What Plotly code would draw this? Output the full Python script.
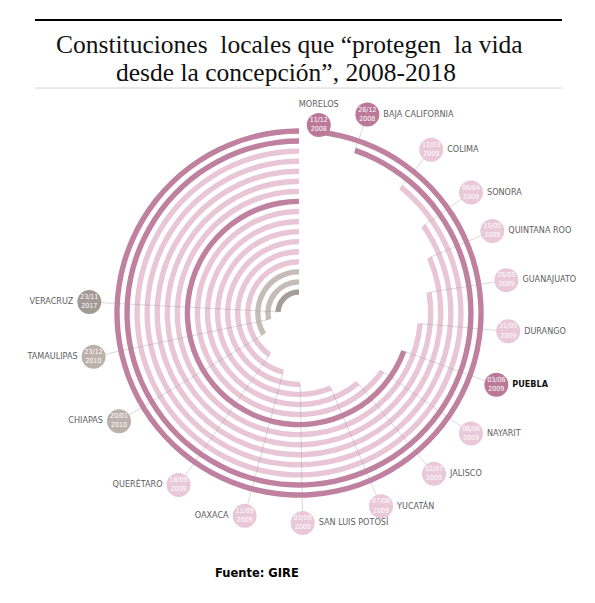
import numpy as np
import plotly.graph_objects as go

# estados en el orden en que se reformaron (de fuera hacia dentro)
estados = ["MORELOS", "BAJA CALIFORNIA", "COLIMA", "SONORA", "QUINTANA ROO",
           "GUANAJUATO", "DURANGO", "PUEBLA", "NAYARIT", "JALISCO", "YUCATÁN",
           "SAN LUIS POTOSÍ", "OAXACA", "QUERÉTARO", "CHIAPAS", "TAMAULIPAS",
           "VERACRUZ"]
fechas = ["11/12/2008", "26/12/2008", "12/03/2009", "06/04/2009", "15/05/2009",
          "26/05/2009", "31/05/2009", "03/06/2009", "06/06/2009", "02/07/2009",
          "07/08/2009", "03/09/2009", "11/09/2009", "18/09/2009", "20/01/2010",
          "23/12/2010", "23/11/2017"]
# angulo (grados, sentido horario desde arriba) donde termina cada arco
angulos = [6, 19, 39, 55, 67, 81, 95, 110, 125, 140, 157, 179, 195, 215, 239, 258, 273]
tono = ["fuerte", "fuerte", "suave", "suave", "suave", "suave", "suave", "fuerte",
        "suave", "suave", "suave", "suave", "suave", "suave", "gris", "gris", "gris_osc"]

col_arco = {"fuerte": "#c0809f", "suave": "#e8c6d6", "gris": "#c6bcb7", "gris_osc": "#a69d99"}
col_circ = {"fuerte": "#bb7899", "suave": "#e9c8d7", "gris": "#bcb0aa", "gris_osc": "#a39995"}

n = len(estados)
radios = 182 - 10.06 * np.arange(n)
r_etq = np.where(np.arange(n) == 0, 189, 210)
grosor = 5.4

# la pagina deja 8px de margen en el body
O = 8
W, H = 595 - 2 * O, 603 - 2 * O


def px(x, y):
    return (x - O) / W, 1 - (y - O) / H


fig = go.Figure()

# arcos: desde el angulo final hasta las 12 en punto
fig.add_trace(go.Barpolar(
    r=[grosor] * n,
    base=radios - grosor / 2,
    theta=[(a + 360) / 2 for a in angulos],
    width=[360 - a for a in angulos],
    marker=dict(color=[col_arco[t] for t in tono], line=dict(width=0)),
    hoverinfo="skip",
))

# lineas guia
for i in range(n):
    fig.add_trace(go.Scatterpolar(
        r=[radios[i], r_etq[i]], theta=[angulos[i], angulos[i]],
        mode="lines", line=dict(color="rgba(150,150,150,0.45)", width=0.8),
        hoverinfo="skip",
    ))

pos = ["top center"] + ["middle right"] * 11 + ["middle left"] * 5
nombres = ["<b>" + e + "</b>" if e == "PUEBLA" else e for e in estados]
col_txt = ["#111111" if e == "PUEBLA" else "#606060" for e in estados]
fuente = "Liberation Sans Narrow, DejaVu Sans Condensed, sans-serif"

fig.add_trace(go.Scatterpolar(
    r=r_etq, theta=angulos, mode="markers+text",
    marker=dict(size=24, color=[col_circ[t] for t in tono]),
    text=[f[:5] + "<br>" + f[6:] for f in fechas],
    textposition="middle center",
    textfont=dict(family=fuente, size=7, color="white"),
    cliponaxis=False, hoverinfo="skip",
))
fig.add_trace(go.Scatterpolar(
    r=r_etq, theta=angulos, mode="markers+text",
    marker=dict(size=24, color="rgba(0,0,0,0)"),
    text=nombres,
    textposition=pos,
    textfont=dict(family=fuente, size=9, color=col_txt),
    cliponaxis=False, hoverinfo="skip",
))

cx, cy, R = 299, 313, 230
x0, y0 = px(cx - R, cy + R)
x1, y1 = px(cx + R, cy - R)
lx0, ly = px(35, 20)
lx1, ly2 = px(562, 88)
t1x, t1y = px(289, 45)
t2x, t2y = px(286, 73)
fx, fy = px(257, 573)

fig.update_layout(
    width=W, height=H,
    margin=dict(l=0, r=0, t=0, b=0),
    paper_bgcolor="white",
    showlegend=False,
    polar=dict(
        domain=dict(x=[x0, x1], y=[y0, y1]),
        bgcolor="rgba(0,0,0,0)",
        radialaxis=dict(range=[0, R], visible=False),
        angularaxis=dict(rotation=90, direction="clockwise", visible=False),
        bargap=0,
    ),
    shapes=[
        dict(type="line", xref="paper", yref="paper", x0=lx0, x1=lx1, y0=ly, y1=ly,
             line=dict(color="black", width=2)),
        dict(type="line", xref="paper", yref="paper", x0=lx0, x1=lx1, y0=ly2, y1=ly2,
             line=dict(color="#d4d4d4", width=1)),
    ],
    annotations=[
        dict(text="Constituciones  locales que “protegen  la vida", xref="paper", yref="paper",
             x=t1x, y=t1y, yanchor="middle", showarrow=False,
             font=dict(family="Liberation Serif, DejaVu Serif, serif", size=25.5, color="#111111")),
        dict(text="desde la concepción”, 2008-2018", xref="paper", yref="paper",
             x=t2x, y=t2y, yanchor="middle", showarrow=False,
             font=dict(family="Liberation Serif, DejaVu Serif, serif", size=25.5, color="#111111")),
        dict(text="<b>Fuente: GIRE</b>", xref="paper", yref="paper", x=fx, y=fy,
             yanchor="middle", showarrow=False,
             font=dict(family="DejaVu Sans, sans-serif", size=11.5, color="black")),
    ],
)

fig.write_html("out.html")
